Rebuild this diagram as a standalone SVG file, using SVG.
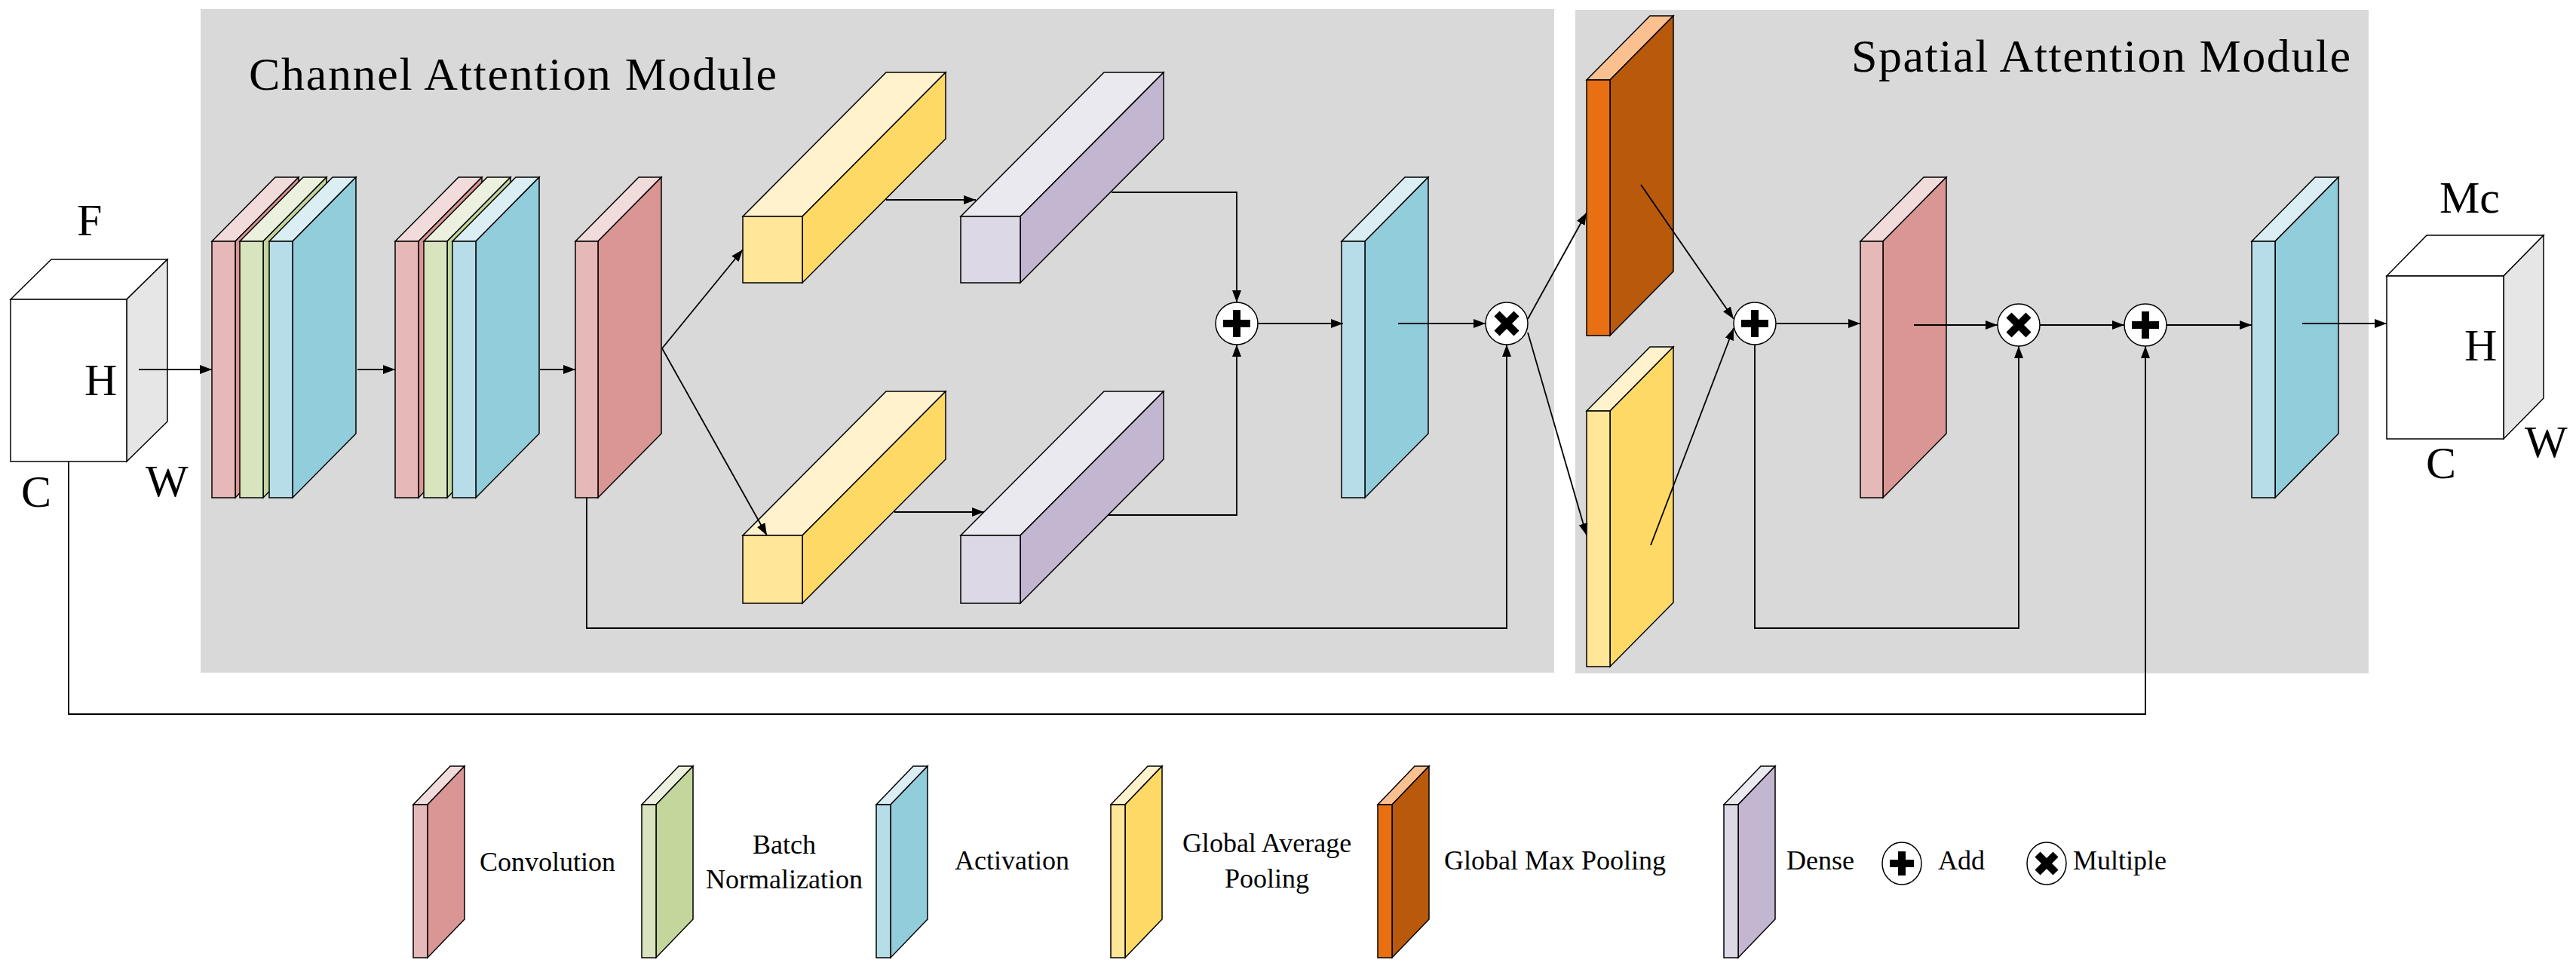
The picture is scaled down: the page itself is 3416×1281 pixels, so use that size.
<svg xmlns="http://www.w3.org/2000/svg" width="3416" height="1281" viewBox="0 0 3416 1281">
<defs>
<marker id="ah" markerWidth="16" markerHeight="12" refX="16" refY="6" orient="auto" markerUnits="userSpaceOnUse" viewBox="0 0 16 12"><path d="M0,0 L16,6 L0,12 z" fill="#000"/></marker>
<style>
.t{font-family:"Liberation Serif","Times New Roman",serif;fill:#000}
.e{stroke:#000;stroke-width:1.5}
.ln{fill:none;stroke:#000;stroke-width:2}
.ar{fill:none;stroke:#000;stroke-width:1.8;marker-end:url(#ah)}
.sym{fill:none;stroke:#000;stroke-width:10}
</style>
</defs>
<rect width="3416" height="1281" fill="#fff"/>
<rect x="266" y="12" width="1795" height="880" fill="#d9d9d9"/>
<rect x="2089" y="13" width="1052" height="880" fill="#d9d9d9"/>
<text class="t" x="330" y="119" font-size="62" textLength="700">Channel Attention Module</text>
<text class="t" x="2455" y="95" font-size="62" textLength="662">Spatial Attention Module</text>

<g id="input">
<polygon class="e" points="14,397 68,344 222,344 168,397" fill="#fff"/>
<polygon class="e" points="168,397 222,344 222,559 168,612" fill="#e6e6e6"/>
<rect class="e" x="14" y="397" width="154" height="215" fill="#fff"/>
<text class="t" x="102" y="312" font-size="60">F</text>
<text class="t" x="112" y="524" font-size="60">H</text>
<text class="t" x="28" y="672" font-size="60">C</text>
<text class="t" x="193" y="658" font-size="60">W</text>
</g>

<g id="stack1">
<polygon class="e" points="281,320 365,235 396,235 312,320" fill="#f2dcdb"/><polygon class="e" points="312,320 396,235 396,575 312,660" fill="#d99694"/><rect class="e" x="281" y="320" width="31" height="340" fill="#e6b8b7"/>
<polygon class="e" points="318,320 402,235 433,235 349,320" fill="#ebf1de"/><polygon class="e" points="349,320 433,235 433,575 349,660" fill="#c3d69b"/><rect class="e" x="318" y="320" width="31" height="340" fill="#d7e4bd"/>
<polygon class="e" points="357,320 441,235 472,235 388,320" fill="#dbeef4"/><polygon class="e" points="388,320 472,235 472,575 388,660" fill="#92cddc"/><rect class="e" x="357" y="320" width="31" height="340" fill="#b7dee8"/>
</g>
<g id="stack2">
<polygon class="e" points="524,320 608,235 639,235 555,320" fill="#f2dcdb"/><polygon class="e" points="555,320 639,235 639,575 555,660" fill="#d99694"/><rect class="e" x="524" y="320" width="31" height="340" fill="#e6b8b7"/>
<polygon class="e" points="562,320 646,235 677,235 593,320" fill="#ebf1de"/><polygon class="e" points="593,320 677,235 677,575 593,660" fill="#c3d69b"/><rect class="e" x="562" y="320" width="31" height="340" fill="#d7e4bd"/>
<polygon class="e" points="600,320 684,235 715,235 631,320" fill="#dbeef4"/><polygon class="e" points="631,320 715,235 715,575 631,660" fill="#92cddc"/><rect class="e" x="600" y="320" width="31" height="340" fill="#b7dee8"/>
</g>
<g id="conv1">
<polygon class="e" points="763,320 847,235 877,235 793,320" fill="#f2dcdb"/><polygon class="e" points="793,320 877,235 877,575 793,660" fill="#d99694"/><rect class="e" x="763" y="320" width="30" height="340" fill="#e6b8b7"/>
</g>
<g id="gap1">
<polygon class="e" points="985,287 1175,96 1254,96 1064,287" fill="#fff2cc"/><polygon class="e" points="1064,287 1254,96 1254,184 1064,375" fill="#ffd966"/><rect class="e" x="985" y="287" width="79" height="88" fill="#ffe699"/>
</g>
<g id="gap2">
<polygon class="e" points="985,710 1175,519 1254,519 1064,710" fill="#fff2cc"/><polygon class="e" points="1064,710 1254,519 1254,609 1064,800" fill="#ffd966"/><rect class="e" x="985" y="710" width="79" height="90" fill="#ffe699"/>
</g>
<g id="dense1">
<polygon class="e" points="1274,287 1464,96 1543,96 1353,287" fill="#ebe9f0"/><polygon class="e" points="1353,287 1543,96 1543,184 1353,375" fill="#c3b6d0"/><rect class="e" x="1274" y="287" width="79" height="88" fill="#dcd8e6"/>
</g>
<g id="dense2">
<polygon class="e" points="1274,710 1464,519 1543,519 1353,710" fill="#ebe9f0"/><polygon class="e" points="1353,710 1543,519 1543,609 1353,800" fill="#c3b6d0"/><rect class="e" x="1274" y="710" width="79" height="90" fill="#dcd8e6"/>
</g>
<g id="act1">
<polygon class="e" points="1779,320 1863,235 1894,235 1810,320" fill="#dbeef4"/><polygon class="e" points="1810,320 1894,235 1894,575 1810,660" fill="#92cddc"/><rect class="e" x="1779" y="320" width="31" height="340" fill="#b7dee8"/>
</g>
<g id="add1"><ellipse class="e" cx="1640" cy="429" rx="28" ry="28" fill="#fff"/><path class="sym" d="M1622,429H1658M1640,411V447"/></g>
<g id="mul1"><ellipse class="e" cx="1998" cy="429" rx="28" ry="28" fill="#fff"/><path class="sym" d="M1985,416L2011,442M2011,416L1985,442"/></g>

<g id="gmp">
<polygon class="e" points="2104,106 2188,21 2219,21 2135,106" fill="#fac090"/><polygon class="e" points="2135,106 2219,21 2219,360 2135,445" fill="#b8590c"/><rect class="e" x="2104" y="106" width="31" height="339" fill="#e86f12"/>
</g>
<g id="gap3">
<polygon class="e" points="2104,545 2188,460 2219,460 2135,545" fill="#fff2cc"/><polygon class="e" points="2135,545 2219,460 2219,799 2135,884" fill="#ffd966"/><rect class="e" x="2104" y="545" width="31" height="339" fill="#ffe699"/>
</g>
<g id="conv2">
<polygon class="e" points="2467,320 2551,235 2581,235 2497,320" fill="#f2dcdb"/><polygon class="e" points="2497,320 2581,235 2581,575 2497,660" fill="#d99694"/><rect class="e" x="2467" y="320" width="30" height="340" fill="#e6b8b7"/>
</g>
<g id="act2">
<polygon class="e" points="2986,320 3070,235 3101,235 3017,320" fill="#dbeef4"/><polygon class="e" points="3017,320 3101,235 3101,575 3017,660" fill="#92cddc"/><rect class="e" x="2986" y="320" width="31" height="340" fill="#b7dee8"/>
</g>
<g id="add2"><ellipse class="e" cx="2327" cy="429" rx="28" ry="28" fill="#fff"/><path class="sym" d="M2309,429H2345M2327,411V447"/></g>
<g id="mul2"><ellipse class="e" cx="2677" cy="431" rx="28" ry="28" fill="#fff"/><path class="sym" d="M2664,418L2690,444M2690,418L2664,444"/></g>
<g id="add3"><ellipse class="e" cx="2845" cy="431" rx="28" ry="28" fill="#fff"/><path class="sym" d="M2827,431H2863M2845,413V449"/></g>
<g id="output">
<polygon class="e" points="3165,366 3218,312 3373,312 3320,366" fill="#fff"/>
<polygon class="e" points="3320,366 3373,312 3373,528 3320,582" fill="#e6e6e6"/>
<rect class="e" x="3165" y="366" width="155" height="216" fill="#fff"/>
<text class="t" x="3235" y="282" font-size="60">Mc</text>
<text class="t" x="3268" y="478" font-size="60">H</text>
<text class="t" x="3217" y="634" font-size="60">C</text>
<text class="t" x="3348" y="606" font-size="60">W</text>
</g>

<g id="connectors">
<path class="ar" d="M184,490H281"/>
<path class="ar" d="M474,490H524"/>
<path class="ar" d="M716,490H763"/>
<path class="ar" d="M878,462L985,331"/>
<path class="ar" d="M878,462L1017,710"/>
<path class="ar" d="M1175,265H1294"/>
<path class="ar" d="M1186,679H1305"/>
<path class="ar" d="M1474,255H1640V401"/>
<path class="ar" d="M1469,683H1640V457"/>
<path class="ar" d="M1668,429H1781"/>
<path class="ar" d="M1854,429H1970"/>
<path class="ar" d="M778,660V833H1998V457"/>
<path class="ar" d="M2026,423L2104,282"/>
<path class="ar" d="M2026,441L2104,710"/>
<path class="ar" d="M2176,245L2299,423"/>
<path class="ar" d="M2189,723L2299,435"/>
<path class="ar" d="M2355,429H2467"/>
<path class="ar" d="M2538,431H2649"/>
<path class="ar" d="M2705,431H2817"/>
<path class="ar" d="M2873,431H2986"/>
<path class="ar" d="M3053,429H3165"/>
<path class="ar" d="M2327,457V833H2677V459"/>
<path class="ar" d="M91,612V947H2845V459"/>
</g>

<g id="legend">
<polygon class="e" points="548,1067 597,1016 616,1016 567,1067" fill="#f2dcdb"/><polygon class="e" points="567,1067 616,1016 616,1219 567,1270" fill="#d99694"/><rect class="e" x="548" y="1067" width="19" height="203" fill="#e6b8b7"/>
<polygon class="e" points="851,1067 900,1016 919,1016 870,1067" fill="#ebf1de"/><polygon class="e" points="870,1067 919,1016 919,1219 870,1270" fill="#c3d69b"/><rect class="e" x="851" y="1067" width="19" height="203" fill="#d7e4bd"/>
<polygon class="e" points="1162,1067 1211,1016 1230,1016 1181,1067" fill="#dbeef4"/><polygon class="e" points="1181,1067 1230,1016 1230,1219 1181,1270" fill="#92cddc"/><rect class="e" x="1162" y="1067" width="19" height="203" fill="#b7dee8"/>
<polygon class="e" points="1473,1067 1522,1016 1541,1016 1492,1067" fill="#fff2cc"/><polygon class="e" points="1492,1067 1541,1016 1541,1219 1492,1270" fill="#ffd966"/><rect class="e" x="1473" y="1067" width="19" height="203" fill="#ffe699"/>
<polygon class="e" points="1827,1067 1876,1016 1895,1016 1846,1067" fill="#fac090"/><polygon class="e" points="1846,1067 1895,1016 1895,1219 1846,1270" fill="#b8590c"/><rect class="e" x="1827" y="1067" width="19" height="203" fill="#e86f12"/>
<polygon class="e" points="2286,1067 2335,1016 2354,1016 2305,1067" fill="#ebe9f0"/><polygon class="e" points="2305,1067 2354,1016 2354,1219 2305,1270" fill="#c3b6d0"/><rect class="e" x="2286" y="1067" width="19" height="203" fill="#dcd8e6"/>
<text class="t" x="636" y="1155" font-size="36">Convolution</text>
<text class="t" x="1040" y="1132" font-size="36" text-anchor="middle">Batch</text>
<text class="t" x="1040" y="1178" font-size="36" text-anchor="middle">Normalization</text>
<text class="t" x="1266" y="1153" font-size="36">Activation</text>
<text class="t" x="1680" y="1130" font-size="36" text-anchor="middle">Global Average</text>
<text class="t" x="1680" y="1177" font-size="36" text-anchor="middle">Pooling</text>
<text class="t" x="1915" y="1153" font-size="36">Global Max Pooling</text>
<text class="t" x="2369" y="1153" font-size="36">Dense</text>
<ellipse class="e" cx="2522" cy="1145" rx="26" ry="28" fill="#fff"/><path class="sym" d="M2506,1145H2538M2522,1129V1161"/>
<text class="t" x="2570" y="1153" font-size="36">Add</text>
<ellipse class="e" cx="2714" cy="1145" rx="26" ry="28" fill="#fff"/><path class="sym" d="M2702,1133L2726,1157M2726,1133L2702,1157"/>
<text class="t" x="2749" y="1153" font-size="36">Multiple</text>
</g>
</svg>
